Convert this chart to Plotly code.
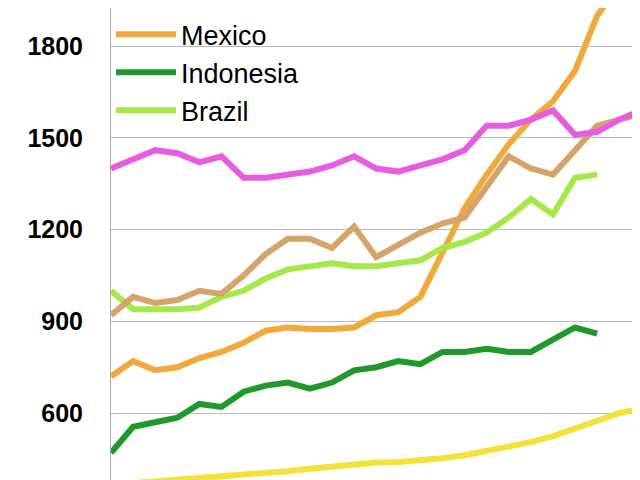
import plotly.graph_objects as go

years = list(range(1990, 2015))
india = [365, 372, 378, 383, 388, 393, 400, 405, 410, 418, 425, 432, 438, 440, 445, 452, 462, 475, 490, 505, 525, 550, 580, 600, 615]
mexico = [720, 770, 740, 750, 780, 800, 830, 870, 880, 875, 875, 880, 920, 930, 980, 1130, 1270, 1380, 1480, 1560, 1620, 1720, 1900, 2000, 2100]
tan = [920, 980, 960, 970, 1000, 990, 1050, 1120, 1170, 1170, 1140, 1210, 1110, 1150, 1190, 1220, 1240, 1340, 1440, 1400, 1380, 1460, 1540, 1560, 1580]
pink = [1400, 1430, 1460, 1450, 1420, 1440, 1370, 1370, 1380, 1390, 1410, 1440, 1400, 1390, 1410, 1430, 1460, 1540, 1540, 1560, 1590, 1510, 1520, 1560, 1590]
indonesia = [470, 555, 570, 585, 630, 620, 670, 690, 700, 680, 700, 740, 750, 770, 760, 800, 800, 810, 800, 800, 840, 880, 860, None, None]
brazil = [1000, 940, 940, 940, 945, 980, 1000, 1040, 1070, 1080, 1090, 1080, 1080, 1090, 1100, 1140, 1160, 1190, 1240, 1300, 1250, 1370, 1380, None, None]

series = [
    ("India", india, "#f2e23a", True),
    ("Mexico", mexico, "#f2a93b", True),
    ("Indonesia", indonesia, "#1f9a2a", True),
    ("Brazil", brazil, "#a6e84a", True),
    ("Other 1", tan, "#d4a56a", False),
    ("Other 2", pink, "#e85ce0", False),
]

fig = go.Figure()
for name, vals, color, show in series:
    fig.add_trace(go.Scatter(x=years, y=vals, name=name, mode="lines",
                             line=dict(color=color, width=6), showlegend=show))

fig.update_layout(
    width=640, height=480,
    margin=dict(l=103, r=0, t=0, b=0, autoexpand=False),
    plot_bgcolor="white", paper_bgcolor="white",
    font=dict(family="Liberation Sans, Arial", color="black"),
    legend=dict(orientation="h", x=0.0, xanchor="left", y=1.075, yanchor="top",
                entrywidth=215, entrywidthmode="pixels", traceorder="normal",
                font=dict(size=27, family="Liberation Sans, Arial Black"),
                bgcolor="rgba(0,0,0,0)", itemwidth=60,
                tracegroupgap=0),
    xaxis=dict(range=[1990, 2014.3], showticklabels=False, showgrid=False,
               zeroline=False, showline=True, linecolor="#aaaaaa"),
    yaxis=dict(range=[355, 1925], tickvals=[600, 900, 1200, 1500, 1800],
               ticktext=["<b>600</b>", "<b>900</b>", "<b>1200</b>", "<b>1500</b>", "<b>1800</b>"],
               tickfont=dict(size=25, family="Liberation Sans, Arial"),
               showgrid=True, gridcolor="#bbbbbb", zeroline=False,
               showline=True, linecolor="#aaaaaa", ticks="", ticklabelstandoff=22),
)
fig.write_html("out.html")
